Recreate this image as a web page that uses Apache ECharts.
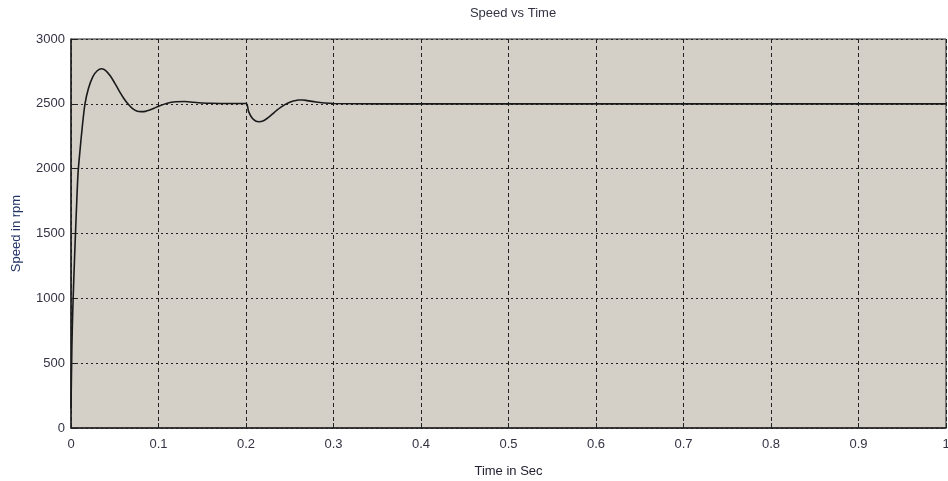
<!DOCTYPE html>
<html>
<head>
<meta charset="utf-8">
<script src="https://cdn.jsdelivr.net/npm/echarts@6/dist/echarts.min.js"></script>
<style>
html,body{margin:0;padding:0;background:#fff;}
#c{width:948px;height:481px;}
</style>
</head>
<body>
<div id="c"></div>
<script>
// Time samples (s) and speed values (rpm)
var timeSec = [0, 0.001, 0.002, 0.004, 0.006, 0.008, 0.010, 0.013, 0.016, 0.020, 0.025, 0.030, 0.035, 0.040, 0.045, 0.050, 0.055, 0.060, 0.065, 0.070, 0.075, 0.080, 0.085, 0.090, 0.095, 0.100, 0.110, 0.120, 0.130, 0.140, 0.150, 0.160, 0.180, 0.200, 0.203, 0.207, 0.211, 0.215, 0.220, 0.225, 0.230, 0.235, 0.240, 0.245, 0.250, 0.255, 0.260, 0.265, 0.270, 0.280, 0.290, 0.300, 0.350, 0.400, 0.500, 0.600, 0.700, 0.800, 0.900, 1.000];
var speedRpm = [150, 620, 900, 1300, 1650, 1960, 2120, 2330, 2500, 2620, 2710, 2755, 2770, 2755, 2715, 2660, 2600, 2545, 2500, 2465, 2445, 2440, 2442, 2452, 2466, 2482, 2505, 2516, 2518, 2512, 2507, 2504, 2502, 2502, 2440, 2390, 2367, 2362, 2370, 2392, 2420, 2450, 2475, 2496, 2512, 2523, 2530, 2530, 2525, 2514, 2507, 2503, 2500, 2500, 2500, 2500, 2500, 2500, 2500, 2500];
var xTicks = ['0','0.1','0.2','0.3','0.4','0.5','0.6','0.7','0.8','0.9','1'];
var yTicks = ['0','500','1000','1500','2000','2500','3000'];
var titleText = 'Speed vs Time';
var xName = 'Time in Sec';
var yName = 'Speed in rpm';

var data = timeSec.map(function(t, i){ return [t, speedRpm[i]]; });
var font = "'Liberation Sans', Arial, sans-serif";
var chart = echarts.init(document.getElementById('c'));
chart.setOption({
  animation: false,
  backgroundColor: '#ffffff',
  title: {
    text: titleText, left: 508, top: 2, textAlign: 'center',
    textStyle: {fontFamily: font, fontSize: 13, fontWeight: 'normal', color: '#333344'}
  },
  grid: {left: 71, right: 2, top: 39, bottom: 53, show: true, backgroundColor: '#d4d0c8', borderColor: '#222', borderWidth: 1, containLabel: false, outerBoundsMode: 'none'},
  xAxis: {
    type: 'value', min: 0, max: 1, interval: 0.1,
    name: xName, nameLocation: 'middle', nameGap: 37,
    nameTextStyle: {fontFamily: font, fontSize: 13, color: '#222233'},
    axisLine: {lineStyle: {color: '#222', width: 1.5}},
    axisTick: {inside: true, length: 5, lineStyle: {color: '#222'}},
    axisLabel: {margin: 10, fontFamily: font, fontSize: 13, color: '#333344',
      formatter: function(v){ var i = Math.round(v*10); return xTicks[i]; }},
    splitLine: {show: true, lineStyle: {color: '#222', type: [4, 3], width: 1}}
  },
  yAxis: {
    type: 'value', min: 0, max: 3000, interval: 500,
    name: yName, nameLocation: 'middle', nameGap: 48, nameRotate: 90,
    nameTextStyle: {fontFamily: font, fontSize: 13, color: '#223366'},
    axisLine: {show: true, lineStyle: {color: '#222', width: 1.5}},
    axisTick: {show: true, inside: true, length: 5, lineStyle: {color: '#222'}},
    axisLabel: {margin: 6, fontFamily: font, fontSize: 13, color: '#333344',
      formatter: function(v){ return yTicks[Math.round(v/500)]; }},
    splitLine: {show: true, lineStyle: {color: '#222', type: [2, 3], width: 1}}
  },
  series: [{
    type: 'line', data: data, smooth: 0.3, showSymbol: false,
    lineStyle: {color: '#1a1a1a', width: 1.6}
  }]
});
</script>
</body>
</html>
